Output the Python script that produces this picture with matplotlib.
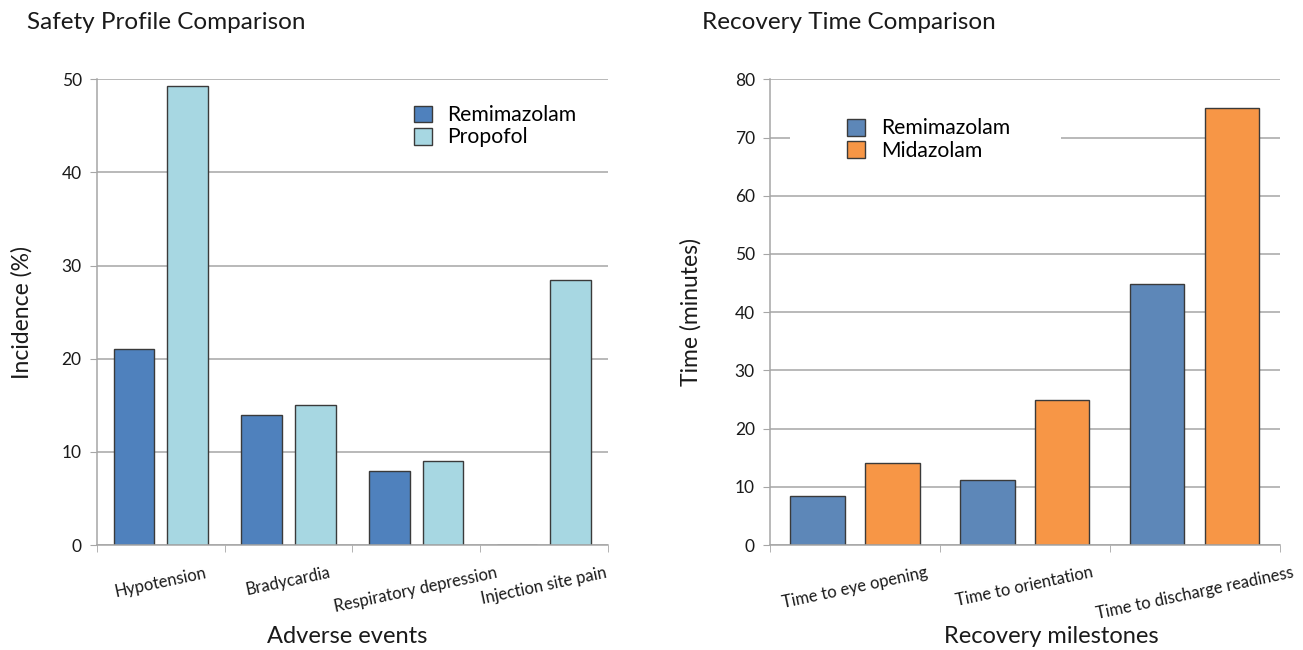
import matplotlib
matplotlib.use("Agg")
import matplotlib.pyplot as plt
import numpy as np
from matplotlib.patches import Rectangle
from matplotlib.ticker import FixedLocator

plt.rcParams["font.family"] = ["Lato", "DejaVu Sans"]

# adverse events (%)
events = ["Hypotension", "Bradycardia", "Respiratory depression", "Injection site pain"]
remi_events = [21.0, 14.0, 8.0, 0.0]
propofol_events = [49.3, 15.0, 9.0, 28.4]

# recovery times (minutes)
milestones = ["Time to eye opening", "Time to orientation", "Time to discharge readiness"]
remi_recovery = [8.4, 11.1, 44.9]
midazolam_recovery = [14.1, 24.9, 75.0]

GRID = "#a6a6a6"
EDGE = "#3a3a3a"
TEXT = "#1a1a1a"


def style_axes(ax, n, ymax, ystep):
    ax.set_xlim(-0.5, n - 0.5)
    ax.set_ylim(0, ymax)
    ax.set_yticks(np.arange(0, ymax + 1, ystep))
    ax.yaxis.grid(True, color=GRID, linewidth=1.1)
    ax.set_axisbelow(True)
    for s in ("top", "right"):
        ax.spines[s].set_visible(False)
    for s in ("left", "bottom"):
        ax.spines[s].set_color(GRID)
        ax.spines[s].set_linewidth(1.1)
    ax.tick_params(axis="y", length=5, color=GRID, labelsize=12.5, labelcolor=TEXT, pad=6)
    # category boundaries get the tick marks, labels sit in between
    ax.set_xticks(np.arange(n))
    ax.xaxis.set_minor_locator(FixedLocator(np.arange(-0.5, n, 1.0)))
    ax.tick_params(axis="x", which="major", length=0, pad=14)
    ax.tick_params(axis="x", which="minor", length=5, color=GRID)


legend_kw = dict(frameon=False, fontsize=15.2, handlelength=0.85, handleheight=0.85,
                 handletextpad=0.75, labelspacing=0.1, borderpad=0, borderaxespad=0)

fig = plt.figure(figsize=(13.03, 6.5), dpi=100)

# left: safety profile
ax1 = fig.add_axes([0.0744, 0.1615, 0.392, 0.7165])
x = np.arange(len(events))
w = 0.32
off = 0.21
ax1.bar(x - off, remi_events, w, color="#4f81bd", edgecolor=EDGE, linewidth=1, label="Remimazolam")
ax1.bar(x + off, propofol_events, w, color="#a7d7e2", edgecolor=EDGE, linewidth=1, label="Propofol")
style_axes(ax1, len(events), 50, 10)
ax1.set_xticklabels(events, rotation=12, ha="center", fontsize=11.9, color=TEXT)
ax1.set_ylabel("Incidence (%)", fontsize=16.5, color=TEXT, labelpad=21)
ax1.set_xlabel("Adverse events", fontsize=17, color=TEXT, va="center")
ax1.xaxis.set_label_coords(0.49, -0.197)
ax1.legend(loc="upper left", bbox_to_anchor=(0.62, 0.944), **legend_kw)
fig.text(0.021, 0.965, "Safety Profile Comparison", fontsize=17.5, color=TEXT, va="center")

# right: recovery times
ax2 = fig.add_axes([0.591, 0.1615, 0.391, 0.7165])
x2 = np.arange(len(milestones))
off2 = 0.22
ax2.bar(x2 - off2, remi_recovery, w, color="#5d87b8", edgecolor=EDGE, linewidth=1, label="Remimazolam")
ax2.bar(x2 + off2, midazolam_recovery, w, color="#f79646", edgecolor=EDGE, linewidth=1, label="Midazolam")
style_axes(ax2, len(milestones), 80, 10)
ax2.set_xticklabels(milestones, rotation=12, ha="center", fontsize=11.9, color=TEXT)
ax2.set_ylabel("Time (minutes)", fontsize=16.5, color=TEXT, labelpad=24)
ax2.set_xlabel("Recovery milestones", fontsize=17, color=TEXT, va="center")
ax2.xaxis.set_label_coords(0.553, -0.197)
# white legend area that hides the gridline behind it
ax2.add_patch(Rectangle((0.039, 0.80), 0.532, 0.13, transform=ax2.transAxes,
                        facecolor="white", edgecolor="none", zorder=1))
ax2.legend(loc="upper left", bbox_to_anchor=(0.151, 0.916), **legend_kw)
fig.text(0.539, 0.965, "Recovery Time Comparison", fontsize=17.5, color=TEXT, va="center")

fig.savefig("out.png", dpi=100, facecolor="white")
plt.close(fig)
